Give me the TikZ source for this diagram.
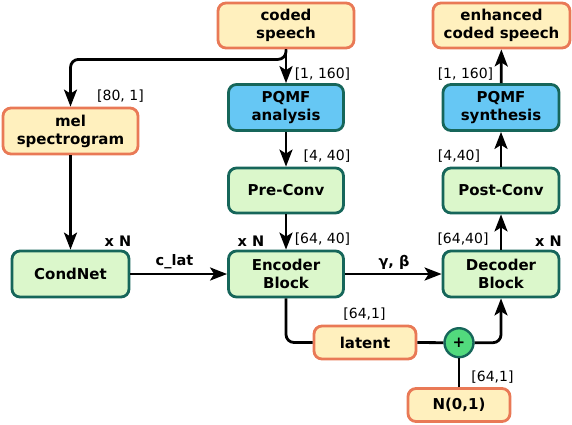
\documentclass[tikz,border=0pt]{standalone}
\usepackage{fontspec}
\setmainfont{DejaVu Sans}
\usetikzlibrary{arrows.meta}

\definecolor{ioborder}{RGB}{233,121,86}
\definecolor{iofill}{RGB}{255,240,190}
\definecolor{netborder}{RGB}{22,102,90}
\definecolor{netfill}{RGB}{219,247,203}
\definecolor{pqmffill}{RGB}{102,199,244}
\definecolor{plusfill}{RGB}{82,218,125}

\begin{document}
\begin{tikzpicture}[x=1pt,y=-1pt,
    iobox/.style={draw=ioborder, fill=iofill, line width=2.8pt, rounded corners=8pt,
      align=center, inner sep=0pt, font=\fontsize{15}{18}\selectfont\bfseries},
    netbox/.style={iobox, draw=netborder, fill=netfill},
    pqmfbox/.style={netbox, fill=pqmffill},
    dimlabel/.style={font=\fontsize{14}{16}\selectfont},
    reptag/.style={font=\fontsize{14.5}{16}\selectfont\bfseries},
    arr/.style={-{Stealth[length=17pt,width=13pt,inset=4pt]}, line width=2.8pt},
    link/.style={line width=2.8pt, rounded corners=8pt}
  ]
  \useasboundingbox (0,0) rectangle (572,424);

  % Input and output nodes
  \node[iobox, minimum width=136pt, minimum height=45pt] (code) at (286,25.5) {coded\\speech};
  \node[iobox, minimum width=137pt, minimum height=45pt] (enh) at (501.5,25.5) {enhanced\\coded speech};
  \node[iobox, minimum width=135pt, minimum height=46pt] (mel) at (70.5,131) {mel\\spectrogram};

  % Encoder branch
  \node[pqmfbox, minimum width=115pt, minimum height=46pt] (pqmfa) at (286,107.5) {PQMF\\analysis};
  \node[netbox, minimum width=115pt, minimum height=45pt] (pre) at (286,190.5) {Pre-Conv};
  \node[netbox, minimum width=115pt, minimum height=46pt] (enc) at (286,274) {Encoder\\Block};
  \node[netbox, minimum width=117pt, minimum height=46pt] (cond) at (70.5,274) {CondNet};

  % Decoder branch
  \node[netbox, minimum width=116pt, minimum height=46pt] (dec) at (501,274) {Decoder\\Block};
  \node[netbox, minimum width=116pt, minimum height=45pt] (post) at (501,190.5) {Post-Conv};
  \node[pqmfbox, minimum width=116pt, minimum height=46pt] (pqmfs) at (501,107.5) {PQMF\\synthesis};

  % Latent and noise
  \node[iobox, minimum width=102pt, minimum height=33pt] (latent) at (365,342.5) {latent};
  \node[iobox, minimum width=102pt, minimum height=33pt] (noise) at (459,405) {N(0,1)};
  \node[draw=netborder, fill=plusfill, circle, line width=2.4pt, minimum size=29pt, inner sep=0pt,
    font=\fontsize{15}{16}\selectfont\bfseries] (plus) at (459,342.7) {+};

  % Straight arrows
  \foreach \a/\b in {code/pqmfa, pqmfa/pre, pre/enc, mel/cond, cond/enc, enc/dec,
      dec/post, post/pqmfs, pqmfs/enh}{
      \draw[arr] (\a) -- (\b);
    }

  % Bent connectors
  \draw[arr, rounded corners=8pt] (code.south) -- ++(0,10) -| (mel.north);
  \draw[link] (enc.south) |- (latent.west);
  \draw[link] (latent.east) -- (plus.west);
  \draw[link] (noise.north) -- (plus.south);
  \draw[arr, rounded corners=8pt] (plus.east) -| (dec.south);

  % Shape labels
  \node[dimlabel] (dmel) at (120.5,96) {[80, 1]};
  \node[dimlabel] (dpqmfa) at (322.5,74) {[1, 160]};
  \node[dimlabel] (dpre) at (327,156) {[4, 40]};
  \node[dimlabel] (denc) at (322.5,239) {[64, 40]};
  \node[dimlabel] (dpqmfs) at (465.5,74) {[1, 160]};
  \node[dimlabel] (dpost) at (459,156) {[4,40]};
  \node[dimlabel] (ddec) at (463,239) {[64,40]};
  \node[dimlabel] (dlatent) at (364.5,314) {[64,1]};
  \node[dimlabel] (dnoise) at (492.5,377.5) {[64,1]};

  % Repeat tags and edge labels
  \node[reptag] (ncond) at (118,241) {x N};
  \node[reptag] (nenc) at (251,241) {x N};
  \node[reptag] (ndec) at (548.5,241) {x N};
  \node[reptag] (clat) at (174.5,262) {c\_lat};
  \node[reptag] (gb) at (394,262) {γ, β};
\end{tikzpicture}
\end{document}
